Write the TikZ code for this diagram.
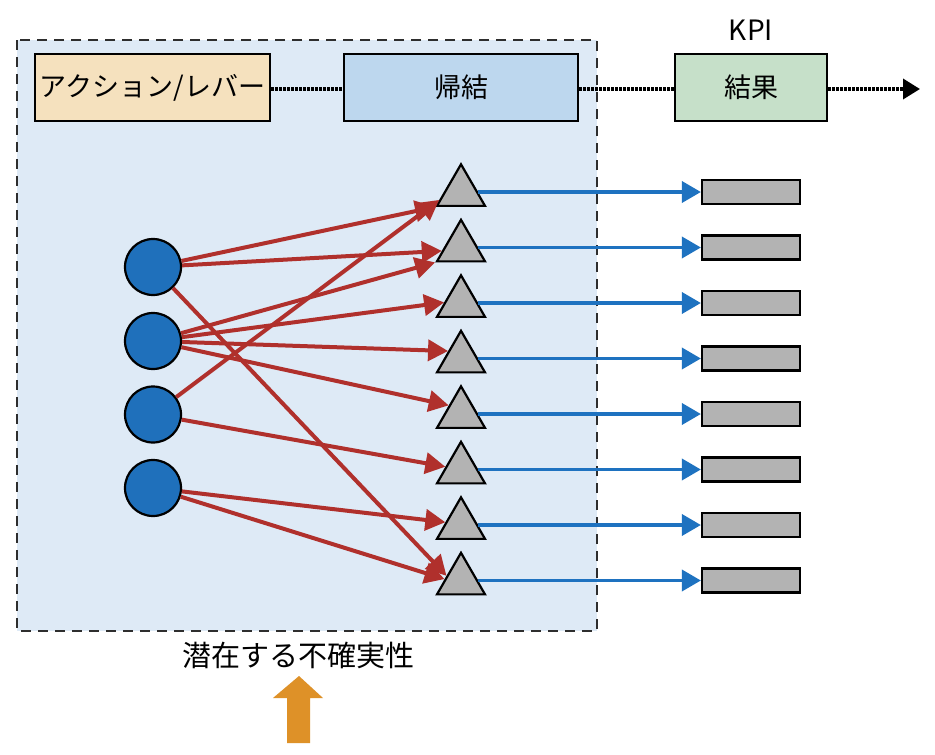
\documentclass[tikz,border=0pt]{standalone}
\usepackage{fontspec}
\setmainfont{Noto Sans CJK JP}
\usetikzlibrary{arrows.meta,shapes.geometric}
\definecolor{regionfill}{HTML}{DEEAF6}
\definecolor{actfill}{HTML}{F5E1BE}
\definecolor{consfill}{HTML}{BDD7EE}
\definecolor{resfill}{HTML}{C6E0C9}
\definecolor{dotblue}{HTML}{1F70BB}
\definecolor{shapegray}{HTML}{B3B3B3}
\definecolor{linkred}{HTML}{B0302C}
\definecolor{linkblue}{HTML}{1E72C0}
\definecolor{uncorange}{HTML}{DE9128}
\definecolor{dashgray}{HTML}{2E2E2E}
\tikzset{
  regionbox/.style={fill=regionfill, draw=dashgray, line width=2pt, dash pattern=on 10pt off 7pt},
  topbox/.style={draw=black, line width=2.2pt, minimum height=67pt, inner sep=2pt,
    font=\fontsize{27}{30}\selectfont},
  dotline/.style={draw=black, line width=3.6pt, dash pattern=on 2.4pt off 1.6pt},
  dot/.style={circle, draw=black, line width=2.2pt, fill=dotblue, minimum size=56pt, inner sep=0pt},
  tri/.style={regular polygon, regular polygon sides=3, draw=black, line width=2.2pt,
    fill=shapegray, minimum size=55.4pt, inner sep=0pt},
  kpibox/.style={rectangle, draw=black, line width=2.2pt, fill=shapegray,
    minimum width=98pt, minimum height=24pt, inner sep=0pt},
  bluearrow/.style={draw=linkblue, line width=3.6pt, -{Triangle[length=19pt,width=21pt]}},
  redarrow/.style={draw=linkred, line width=4pt, -{Triangle[length=20pt,width=21pt]}},
  label/.style={font=\fontsize{28}{32}\selectfont, inner sep=0pt}
}
\begin{document}
\begin{tikzpicture}[x=1pt,y=-1pt]
\useasboundingbox (0,0) rectangle (935,755);
\fill[white] (0,0) rectangle (935,755);
% region of latent uncertainty
\draw[regionbox] (17,40) rectangle (597,631);
% top row
\node[topbox, fill=actfill, minimum width=235pt] (act) at (152.5,87.5) {アクション/レバー};
\node[topbox, fill=consfill, minimum width=234pt] (cons) at (461,87.5) {帰結};
\node[topbox, fill=resfill, minimum width=152pt] (res) at (751,87.5) {結果};
\node[label] (kpi) at (751,30) {KPI};
\coordinate (dotend) at (920,89);
\draw[dotline] (act.east |- 0,89) -- (cons.west |- 0,89);
\draw[dotline] (cons.east |- 0,89) -- (res.west |- 0,89);
\draw[dotline, -{Triangle[length=17pt,width=20pt]}] (res.east |- 0,89) -- (dotend);
% actions
\foreach \i/\y in {1/267,2/341,3/414.5,4/488}
  \node[dot] (c\i) at (153,\y) {};
% consequences and results
\foreach \i in {1,...,8}{
  \pgfmathsetmacro\yy{192+55.5*(\i-1)}
  \node[tri] (t\i) at (461,\yy) {};
  \node[kpibox] (r\i) at (751,\yy) {};
  \draw[bluearrow] (t\i) -- (r\i);
}
% links
\draw[redarrow] (c1) -- (t1.corner 2);
\draw[redarrow] (c1) -- (t2.190);
\draw[redarrow] (c1) -- (t8.162);
\draw[redarrow] (c2) -- (t2.corner 2);
\draw[redarrow] (c2) -- (t3.178);
\draw[redarrow] (c2) -- (t4.150);
\draw[redarrow] (c2) -- (t5.145);
\draw[redarrow] (c3) -- (t1.200);
\draw[redarrow] (c3) -- (t6.170);
\draw[redarrow] (c4) -- (t7.170);
\draw[redarrow] (c4) -- (t8.175);
% latent uncertainty
\node[label, font=\fontsize{29}{33}\selectfont] (unc) at (298,655) {潜在する不確実性};
\fill[uncorange] (299,676) -- (323,698) -- (310,698) -- (310,743) -- (287,743)
  -- (287,698) -- (273,698) -- cycle;
\end{tikzpicture}
\end{document}
